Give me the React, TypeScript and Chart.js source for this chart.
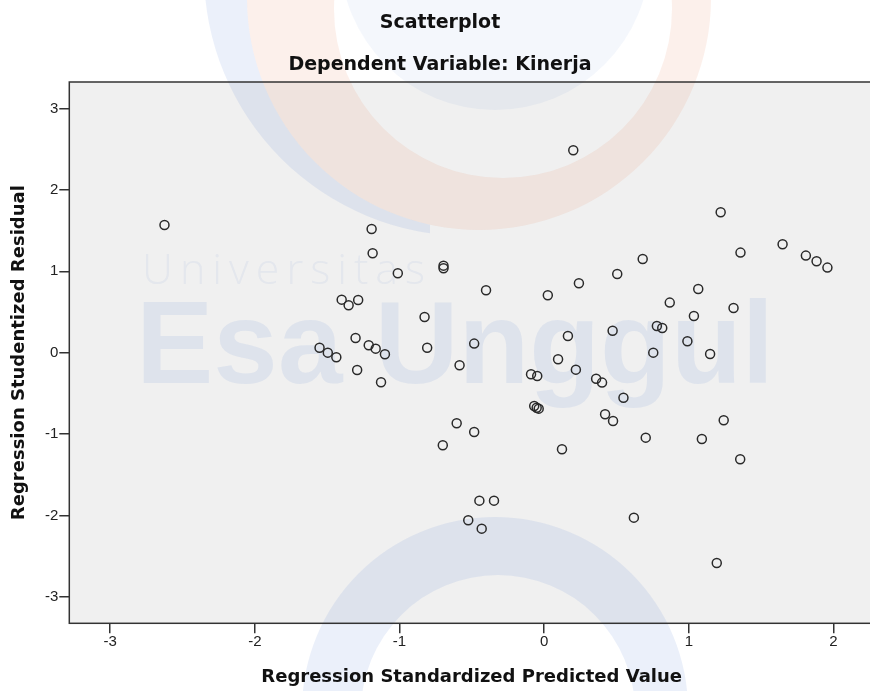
import React, { useEffect, useRef } from 'react';
import { Chart, registerables } from 'chart.js';

Chart.register(...registerables);

// ---- data ----
const predicted = [
  -2.625, -1.553, -1.496, -1.437, -1.400, -1.352, -1.286, -1.304, -1.293, -1.213,
  -1.165, -1.101, -1.128, -1.193, -1.186, -1.012, -0.827, -0.809, -0.696, -0.696,
  -0.585, -0.484, -0.402, 0.025, 0.240, 0.505, 0.201, 0.164, 0.473, 0.096,
  0.219, -0.091, -0.048, 0.359, 0.400, 0.548, -0.069, -0.052, -0.038, -0.605,
  -0.484, -0.701, 0.123, 0.421, 0.476, -0.448, -0.347, -0.525, -0.432, 1.220,
  1.648, 1.357, 1.809, 1.883, 1.958, 0.681, 1.065, 0.868, 1.035, 1.309,
  0.779, 0.816, 0.990, 0.754, 1.147, 1.241, 0.702, 1.090, 1.355, 0.620,
  1.193,
];
const residual = [
  1.569, 0.061, 0.000, -0.057, 0.651, 0.582, 0.647, 0.181, -0.213, 0.091,
  0.049, -0.020, -0.364, 1.520, 1.221, 0.975, 0.439, 0.061, 1.069, 1.037,
  -0.155, 0.111, 0.766, 0.705, 0.852, 0.967, 2.486, 0.205, 0.270, -0.081,
  -0.209, -0.265, -0.286, -0.320, -0.368, -0.553, -0.655, -0.676, -0.688, -0.868,
  -0.974, -1.138, -1.187, -0.757, -0.839, -1.818, -1.818, -2.059, -2.162, 1.725,
  1.331, 1.229, 1.192, 1.123, 1.045, 1.151, 0.783, 0.615, 0.451, 0.549,
  0.328, 0.303, 0.140, 0.000, -0.016, -0.831, -1.044, -1.060, -1.310, -2.027,
  -2.584,
];
const xTicks = [-3, -2, -1, 0, 1, 2];
const yTicks = [-3, -2, -1, 0, 1, 2, 3];

const titleText = 'Scatterplot';
const subtitleText = 'Dependent Variable: Kinerja';
const xTitleText = 'Regression Standardized Predicted Value';
const yTitleText = 'Regression Studentized Residual';
const watermarkSmall = 'Universitas';
const watermarkBig = 'Esa Unggul';

const CANVAS_W = 880;
const CANVAS_H = 691;

const watermarkPlugin = {
  id: 'watermark',
  beforeDraw(chart: any) {
    const { ctx, chartArea: a, width, height } = chart;
    ctx.save();
    ctx.fillStyle = '#ffffff';
    ctx.fillRect(0, 0, width, height);
    ctx.fillStyle = '#f0f0f0';
    ctx.fillRect(a.left, a.top, a.right - a.left, a.bottom - a.top);

    const blue = 'rgba(70,120,205,0.11)';
    const paleBlue = 'rgba(70,120,205,0.06)';
    const orange = 'rgba(235,140,100,0.13)';
    const TAU = Math.PI * 2;

    // pale blue disc inside the ring, behind the titles
    ctx.beginPath();
    ctx.arc(495, -45, 155, 0, TAU);
    ctx.fillStyle = paleBlue;
    ctx.fill();

    // orange ring (top)
    ctx.beginPath();
    ctx.arc(479, -2, 232, 0, TAU);
    ctx.arc(503, 9, 169, 0, TAU);
    ctx.fillStyle = orange;
    ctx.fill('evenodd');

    // blue crescent left of the orange ring
    ctx.save();
    ctx.beginPath();
    ctx.rect(0, 0, 430, height);
    ctx.clip();
    ctx.beginPath();
    ctx.arc(468, -28, 264, 0, TAU);
    ctx.arc(479, -2, 232, 0, TAU);
    ctx.fillStyle = blue;
    ctx.fill('evenodd');
    ctx.restore();

    // bottom blue ring
    ctx.beginPath();
    ctx.arc(495, 710, 193, 0, TAU);
    ctx.arc(498, 712, 137, 0, TAU);
    ctx.fillStyle = blue;
    ctx.fill('evenodd');

    // watermark texts
    ctx.textBaseline = 'alphabetic';
    ctx.textAlign = 'left';
    ctx.fillStyle = 'rgba(70,120,205,0.07)';
    ctx.font = '300 43px "Open Sans"';
    (ctx as any).letterSpacing = '7px';
    ctx.fillText(watermarkSmall, 142, 284);
    (ctx as any).letterSpacing = '0px';
    ctx.fillStyle = 'rgba(70,120,205,0.1)';
    ctx.font = 'bold 116px "Liberation Sans"';
    ctx.fillText(watermarkBig, 136, 383);
    ctx.restore();
  },
  afterDraw(chart: any) {
    const { ctx, chartArea: a } = chart;
    ctx.save();
    ctx.strokeStyle = '#333333';
    ctx.lineWidth = 1.5;
    ctx.strokeRect(a.left, a.top, a.right - a.left, a.bottom - a.top);
    ctx.restore();
  },
};

export default function App() {
  const canvasRef = useRef<HTMLCanvasElement | null>(null);

  useEffect(() => {
    if (!canvasRef.current) return;
    const titleFont = { family: 'DejaVu Sans', size: 19, weight: 'bold' as const };
    const axisTitleFont = { family: 'DejaVu Sans', size: 18, weight: 'bold' as const };
    const tickFont = { family: 'Liberation Sans', size: 15 };

    const chart = new Chart(canvasRef.current, {
      type: 'scatter',
      data: {
        datasets: [
          {
            data: predicted.map((x, i) => ({ x, y: residual[i] })),
            pointRadius: 4.5,
            pointHoverRadius: 4.5,
            pointBorderWidth: 1.5,
            pointBorderColor: '#2a2a2a',
            pointBackgroundColor: 'rgba(0,0,0,0)',
            showLine: false,
          },
        ],
      },
      options: {
        responsive: false,
        animation: false,
        layout: { padding: 0 },
        plugins: {
          legend: { display: false },
          tooltip: { enabled: false },
          title: {
            display: true,
            text: titleText,
            font: titleFont,
            color: '#111',
            padding: { top: 12, bottom: 0 },
          },
          subtitle: {
            display: true,
            text: subtitleText,
            font: titleFont,
            color: '#111',
            padding: { top: 19.3, bottom: 5.1 },
          },
        },
        scales: {
          x: {
            type: 'linear',
            position: 'bottom',
            min: -3.283,
            max: 2.28,
            afterBuildTicks: (s: any) => {
              s.ticks = xTicks.map((v) => ({ value: v }));
            },
            afterFit: (s: any) => {
              s.height = 67.7;
            },
            grid: {
              display: true,
              drawOnChartArea: false,
              drawTicks: true,
              tickLength: 10,
              tickColor: '#333',
              tickWidth: 1.5,
              lineWidth: 1.5,
              color: '#333',
            },
            border: { display: false },
            ticks: {
              includeBounds: false,
              padding: 0,
              font: tickFont,
              color: '#222',
              maxRotation: 0,
              autoSkip: false,
              callback: (v: any) => String(v),
            },
            title: {
              display: true,
              text: xTitleText,
              font: axisTitleFont,
              color: '#111',
              padding: { top: 0, bottom: 3 },
            },
          },
          y: {
            type: 'linear',
            position: 'left',
            min: -3.325,
            max: 3.325,
            afterBuildTicks: (s: any) => {
              s.ticks = yTicks.map((v) => ({ value: v }));
            },
            afterFit: (s: any) => {
              s.width = 69.3;
            },
            grid: {
              display: true,
              drawOnChartArea: false,
              drawTicks: true,
              tickLength: 10,
              tickColor: '#333',
              tickWidth: 1.5,
              lineWidth: 1.5,
              color: '#333',
            },
            border: { display: false },
            ticks: {
              includeBounds: false,
              padding: 1,
              font: tickFont,
              color: '#222',
              autoSkip: false,
              callback: (v: any) => String(v),
            },
            title: {
              display: true,
              text: yTitleText,
              font: axisTitleFont,
              color: '#111',
              padding: { top: 9, bottom: 0 },
            },
          },
        },
      },
      plugins: [watermarkPlugin],
    } as any);

    return () => {
      chart.destroy();
    };
  }, []);

  return (
    <div
      style={{
        position: 'absolute',
        left: 0,
        top: 0,
        width: 870,
        height: 691,
        overflow: 'hidden',
        background: '#fff',
      }}
    >
      <div style={{ width: CANVAS_W, height: CANVAS_H }}>
        <canvas
          ref={canvasRef}
          width={CANVAS_W}
          height={CANVAS_H}
          style={{ display: 'block', width: CANVAS_W, height: CANVAS_H }}
        />
      </div>
    </div>
  );
}
